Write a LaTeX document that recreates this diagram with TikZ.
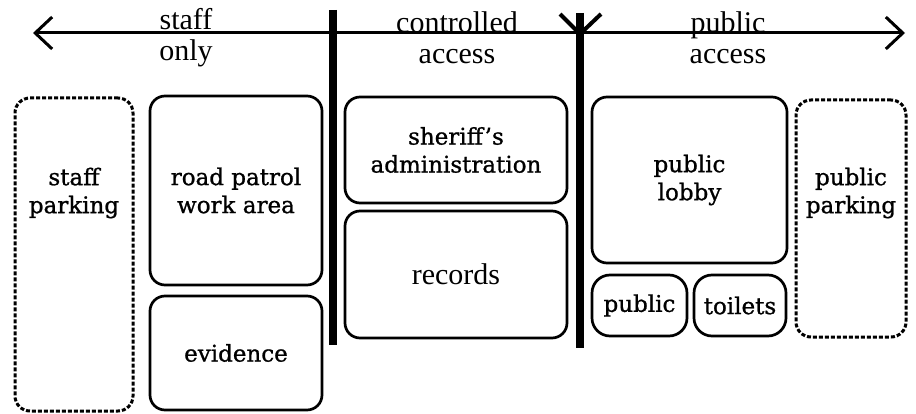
\documentclass[tikz,border=0pt]{standalone}
\usepackage{fontspec}
\setmainfont{Liberation Serif}
\newfontfamily\roomfont[FakeBold=1]{DejaVu Serif}
\usetikzlibrary{arrows.meta}

\begin{document}
\begin{tikzpicture}[
  x=1pt, y=-1pt,
  room/.style={draw, line width=2.7pt, rounded corners=15pt, inner sep=0pt,
               align=center, font=\roomfont\fontsize{23}{28}\selectfont},
  lot/.style={draw, line width=3pt, rounded corners=15pt, inner sep=0pt,
              dash pattern=on 4pt off 2pt},
  zone/.style={font=\fontsize{30}{31}\selectfont, align=center, inner sep=0pt},
  wall/.style={line width=8pt},
  barb/.tip={Straight Barb[length=17pt, width=32pt]},
]
  \useasboundingbox (0,0) rectangle (916,414);

  % Access axis
  \coordinate (west) at (33,33);
  \coordinate (east) at (905,33);
  \draw[line width=3pt, barb-barb] (west) -- (east);

  \node[zone] (staffonly) at (186,37.5) {staff\\only};
  \node[zone] (controlled) at (457,37.5) {controlled\\access};
  \node[zone] (publicacc) at (728,37.5) {public\\access};

  % Dividers
  \coordinate (d1top) at (333,10);
  \coordinate (d1bot) at (333,345);
  \coordinate (d2top) at (580,13);
  \coordinate (d2bot) at (580,348);
  \draw[wall] (d1top) -- (d1bot);
  \draw[wall] (d2top) -- (d2bot);
  \coordinate (gateL) at (560,14);
  \coordinate (gateR) at (601,14);
  \coordinate (gate) at (580,34);
  \draw[line width=4pt] (gateL) -- (gate) -- (gateR);

  % Staff only
  \node[lot, minimum width=118pt, minimum height=313pt] (staffpark) at (74,254.5) {};
  \node[room, draw=none] (staffparktext) at (74,193) {staff\\parking};
  \node[room, minimum width=172pt, minimum height=189pt] (patrol) at (236,190.5) {road patrol\\work area};
  \node[room, minimum width=172pt, minimum height=114pt] (evidence) at (236,353) {evidence};

  % Controlled access
  \node[room, minimum width=222pt, minimum height=106pt] (sheriff) at (456,150) {sheriff’s\\administration};
  \node[room, minimum width=222pt, minimum height=127pt, font=\fontsize{30}{30}\selectfont] (records) at (456,274.5) {records};

  % Public access
  \node[room, minimum width=195pt, minimum height=166pt] (lobby) at (689.5,180) {public\\lobby};
  \node[room, rounded corners=18pt, minimum width=95pt, minimum height=61pt] (publicwc) at (639.5,305.5) {public};
  \node[room, rounded corners=18pt, minimum width=92pt, minimum height=61pt] (toilets) at (740,305.5) {toilets};
  \node[lot, minimum width=110pt, minimum height=237pt] (publicpark) at (851,218.5) {};
  \node[room, draw=none] (publicparktext) at (851,193) {public\\parking};
\end{tikzpicture}
\end{document}
